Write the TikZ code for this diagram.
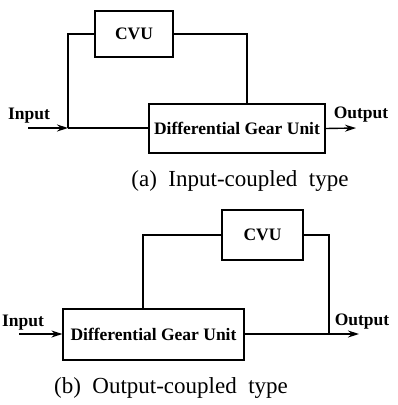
\documentclass[tikz,border=0pt]{standalone}
\usepackage{fontspec}
\setmainfont{Liberation Serif}
\usetikzlibrary{arrows.meta}
\begin{document}
\begin{tikzpicture}[x=1pt,y=-1pt,
  box/.style={draw, line width=1.2pt, inner sep=0pt, font=\bfseries\fontsize{17.5}{20}\selectfont},
  wire/.style={line width=1.4pt},
  arr/.style={wire, -{Stealth[length=11pt,width=7pt]}},
  lbl/.style={inner sep=0pt, font=\bfseries\fontsize{17.5}{20}\selectfont},
  captext/.style={inner sep=0pt, font=\fontsize{23}{26}\selectfont}]
\useasboundingbox (0,0) rectangle (397,405);
% (a) input-coupled
\node[box, minimum width=78pt, minimum height=46pt] (cvua) at (134,34) {CVU};
\node[box, minimum width=176pt, minimum height=49pt] (dgua) at (237,128.5) {Differential Gear Unit};
\coordinate (ina0) at (28,128);
\coordinate (ina) at (68,128);
\coordinate (outa) at (356,128);
\draw[arr] (ina0) -- (ina);
\draw[wire] (ina) -- (ina -| dgua.west);
\draw[wire] (ina) |- (cvua.west);
\draw[wire] (cvua.east) -| ([xshift=10pt]dgua.north);
\draw[arr] (dgua.east) -- (outa);
\node[lbl] (inla) at (29,116) {Input};
\node[lbl] (outla) at (361,115) {Output};
\node[captext] (capa) at (240,181) {(a)\ \ Input-coupled\ \ type};
% (b) output-coupled
\node[box, minimum width=81pt, minimum height=50pt] (cvub) at (262.5,235) {CVU};
\node[box, minimum width=181pt, minimum height=51pt] (dgub) at (153.5,334.5) {Differential Gear Unit};
\coordinate (inb0) at (19,334);
\coordinate (jb) at (329,334);
\coordinate (outb) at (359,334);
\draw[arr] (inb0) -- (inb0 -| dgub.west);
\draw[wire] ([xshift=-10.5pt]dgub.north) |- (cvub.west);
\draw[wire] (cvub.east) -| (jb);
\draw[arr] (dgub.east |- jb) -- (outb);
\node[lbl] (inlb) at (23,323) {Input};
\node[lbl] (outlb) at (362,322) {Output};
\node[captext] (capb) at (171,388) {(b)\ \ Output-coupled\ \ type};
\end{tikzpicture}
\end{document}
